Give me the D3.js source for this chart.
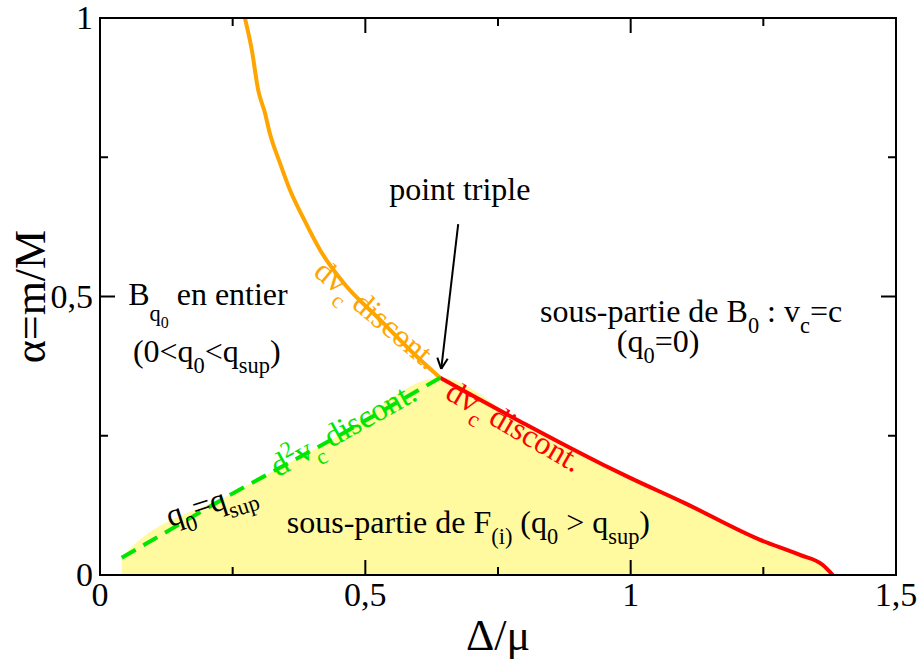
<!DOCTYPE html>
<html>
<head>
<meta charset="utf-8">
<script src="https://cdn.jsdelivr.net/npm/d3@7"></script>
</head>
<body style="margin:0">
<svg id="s" width="917" height="660"></svg>
<script>
// Axis ticks and labels
const xTicks = [0, 0.5, 1, 1.5];
const xTickLabels = ["0", "0,5", "1", "1,5"];
const xMinorTicks = [0.25, 0.75, 1.25];
const yTicks = [0, 0.5, 1];
const yTickLabels = ["0", "0,5", "1"];
const yMinorTicks = [0.25, 0.75];

// Boundary where dv_c is discontinuous (upper branch, orange)
const orangeDelta = [0.273, 0.286, 0.298, 0.311, 0.320, 0.339, 0.358, 0.383, 0.415, 0.462, 0.528, 0.584, 0.641];
const orangeAlpha = [1.000, 0.943, 0.871, 0.829, 0.793, 0.740, 0.691, 0.641, 0.583, 0.521, 0.458, 0.404, 0.354];

// Boundary where dv_c is discontinuous (lower branch, red)
const redDelta = [0.641, 0.791, 0.948, 1.000, 1.100, 1.244, 1.319, 1.362, 1.381];
const redAlpha = [0.354, 0.276, 0.198, 0.174, 0.130, 0.063, 0.036, 0.018, 0.000];

// Line q0 = q_sup where d²v_c is discontinuous (green, dashed)
const greenDelta = [0.041, 0.251, 0.450, 0.641];
const greenAlpha = [0.031, 0.147, 0.250, 0.354];

const svg = d3.select("#s");
const x = d3.scaleLinear().domain([0, 1.5]).range([100, 896]);
const y = d3.scaleLinear().domain([0, 1]).range([575, 18]);

const zip = (a, b) => a.map((v, i) => [v, b[i]]);
const orange = zip(orangeDelta, orangeAlpha);
const red = zip(redDelta, redAlpha);
const green = zip(greenDelta, greenAlpha);

const line = d3.line().x(d => x(d[0])).y(d => y(d[1]));
const smooth = d3.line().x(d => x(d[0])).y(d => y(d[1])).curve(d3.curveMonotoneX);

// Region F(i): under the green line and the red curve, filled with a light yellow tint
const regionTop = [...green, ...red.slice(1)];
svg.append("path")
  .attr("d", smooth([[greenDelta[0] - 1e-6, 0], ...regionTop]) + "Z")
  .attr("fill", "#fff9a0");

// Curves
svg.append("path").attr("d", smooth(orange))
  .attr("fill", "none").attr("stroke", "#ffa500").attr("stroke-width", 4).attr("stroke-linejoin", "round");
svg.append("path").attr("d", smooth(red))
  .attr("fill", "none").attr("stroke", "#ff0000").attr("stroke-width", 4).attr("stroke-linejoin", "round");
svg.append("path").attr("d", line(green))
  .attr("fill", "none").attr("stroke", "#00e600").attr("stroke-width", 4)
  .attr("stroke-dasharray", "16,9");

// Frame
svg.append("rect")
  .attr("x", x(0)).attr("y", y(1))
  .attr("width", x(1.5) - x(0)).attr("height", y(0) - y(1))
  .attr("fill", "none").attr("stroke", "#000").attr("stroke-width", 2);

// Inward ticks on all four sides
const tickG = svg.append("g").attr("stroke", "#000").attr("stroke-width", 2);
const addXTicks = (vals, len) => vals.forEach(v => {
  tickG.append("line").attr("x1", x(v)).attr("x2", x(v)).attr("y1", y(0)).attr("y2", y(0) - len);
  tickG.append("line").attr("x1", x(v)).attr("x2", x(v)).attr("y1", y(1)).attr("y2", y(1) + len);
});
const addYTicks = (vals, len) => vals.forEach(v => {
  tickG.append("line").attr("y1", y(v)).attr("y2", y(v)).attr("x1", x(0)).attr("x2", x(0) + len);
  tickG.append("line").attr("y1", y(v)).attr("y2", y(v)).attr("x1", x(1.5)).attr("x2", x(1.5) - len);
});
addXTicks(xTicks, 15); addXTicks(xMinorTicks, 8);
addYTicks(yTicks, 15); addYTicks(yMinorTicks, 8);

// Tick labels
svg.selectAll("text.xt").data(xTicks).join("text").attr("class", "xt")
  .attr("x", d => x(d)).attr("y", 606)
  .attr("font-size", 34)
  .style("font-family", d => '"Liberation Serif"')
  .attr("text-anchor", "middle")
  .text((d, i) => xTickLabels[i]);
svg.selectAll("text.yt").data(yTicks).join("text").attr("class", "yt")
  .attr("x", 93).attr("y", d => y(d) + 11)
  .attr("font-size", 34)
  .style("font-family", d => '"Liberation Serif"')
  .attr("text-anchor", "end")
  .text((d, i) => yTickLabels[i]);

// Axis titles
svg.append("text")
  .attr("x", 498).attr("y", 650)
  .attr("font-size", 44)
  .style("font-family", '"Liberation Serif"')
  .attr("text-anchor", "middle").text("Δ/μ");
svg.append("text")
  .attr("transform", `translate(45,${y(0.5)}) rotate(-90)`)
  .attr("font-size", 44)
  .style("font-family", '"Liberation Serif"')
  .attr("text-anchor", "middle").text("α=m/M");

// Text with sub/superscripts: parts are [text, sizeFactor, offsetEm]
function rich(px, py, parts, opts = {}) {
  const size = opts.size || 32;
  const g = svg.append("g")
    .attr("transform", `translate(${px},${py}) rotate(${opts.angle || 0})`);
  const t = g.append("text")
    .attr("font-size", size)
    .style("font-family", '"Liberation Serif"')
    .attr("fill", opts.color || "#000")
    .attr("text-anchor", opts.anchor || "start");
  let cur = 0;
  parts.forEach(([s, f, o]) => {
    const off = o * size;
    t.append("tspan").attr("dy", off - cur).attr("font-size", size * f)
      .text(s);
    cur = off;
  });
  return t;
}

rich(x(0.678), y(0.673), [["point triple", 1, 0]], { anchor: "middle" });

// Arrow to the triple point (shaft plus two head strokes)
const tipX = x(0.643), tipY = y(0.370), tailX = x(0.675), tailY = y(0.630);
const ang = Math.atan2(tipY - tailY, tipX - tailX);
svg.append("line")
  .attr("x1", tailX).attr("y1", tailY).attr("x2", tipX).attr("y2", tipY)
  .attr("stroke", "#000").attr("stroke-width", 2);
[-0.45, 0.45].forEach(da => {
  svg.append("line")
    .attr("x1", tipX).attr("y1", tipY)
    .attr("x2", tipX - 12 * Math.cos(ang + da)).attr("y2", tipY - 12 * Math.sin(ang + da))
    .attr("stroke", "#000").attr("stroke-width", 2);
});

rich(x(0.053), y(0.485), [["B", 1, 0], ["q", 0.7, 0.5], ["0", 0.5, 0.72], ["\u00a0en entier", 1, 0]]);
rich(x(0.062), y(0.382), [["(0<q", 1, 0], ["0", 0.7, 0.33], ["<q", 1, 0], ["sup", 0.7, 0.33], [")", 1, 0]]);
rich(x(0.829), y(0.454), [["sous-partie de B", 1, 0], ["0", 0.7, 0.33], ["\u00a0: v", 1, 0], ["c", 0.7, 0.33], ["=c", 1, 0]]);
rich(x(0.974), y(0.400), [["(q", 1, 0], ["0", 0.7, 0.33], ["=0)", 1, 0]]);
rich(x(0.352), y(0.075), [["sous-partie de F", 1, 0], ["(i)", 0.7, 0.33], ["\u00a0(q", 1, 0], ["0", 0.7, 0.33], ["\u00a0> q", 1, 0], ["sup", 0.7, 0.33], [")", 1, 0]]);
rich(x(0.132), y(0.086), [["q", 1, 0], ["0", 0.7, 0.33], ["=q", 1, 0], ["sup", 0.7, 0.33]], { angle: -18 });

rich(x(0.400), y(0.540), [["dv", 1, 0], ["c", 0.7, 0.33], ["\u00a0discont.", 1, 0]], { angle: 40, color: "#ffa500" });
rich(x(0.648), y(0.318), [["dv", 1, 0], ["c", 0.7, 0.33], ["\u00a0discont.", 1, 0]], { angle: 30, color: "#ff0000" });
rich(x(0.335), y(0.175), [["d", 1, 0], ["2", 0.7, -0.4], ["v", 1, 0], ["c", 0.7, 0.33], ["\u00a0discont.", 1, 0]], { angle: -29, color: "#00e600" });
</script>
</body>
</html>
